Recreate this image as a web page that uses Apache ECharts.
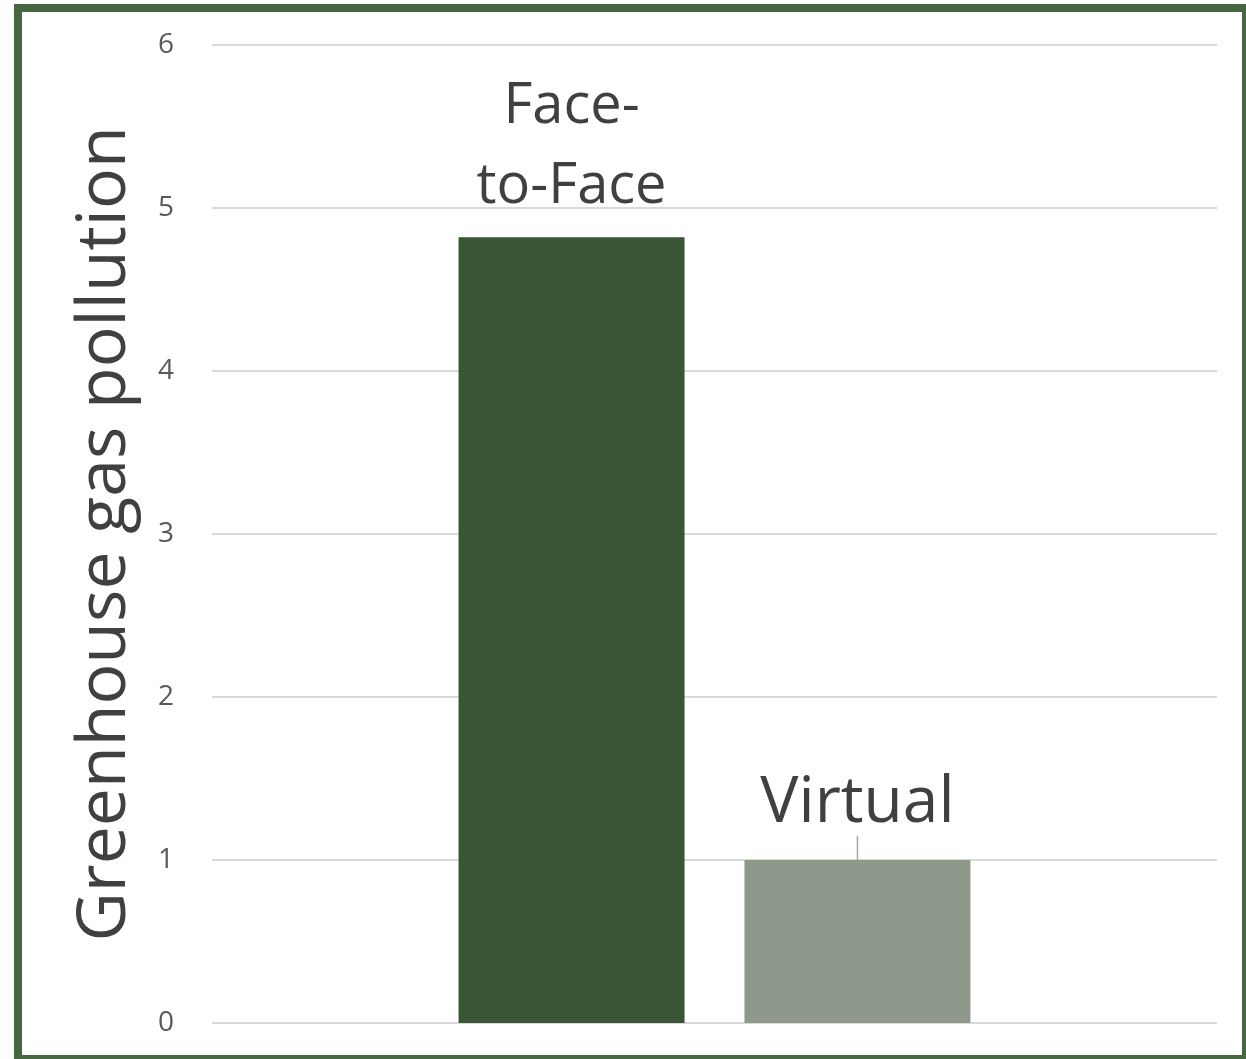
<!DOCTYPE html>
<html>
<head>
<meta charset="utf-8">
<script src="https://cdn.jsdelivr.net/npm/echarts@6/dist/echarts.min.js"></script>
<style>
  html, body { margin: 0; padding: 0; background: #fff; overflow: hidden; }
  #frame { position: absolute; left: 14px; top: 4px; width: 1220px; height: 1043px; border: 8px solid #46673f; }
  #chart { position: absolute; left: 0; top: 0; width: 1246px; height: 1059px; }
</style>
</head>
<body>
<div id="frame"></div>
<div id="chart"></div>
<script>
// data
const categories = ['Meeting'];
const faceToFace = [4.82];
const virtual = [1.0];
const yTicks = [0, 1, 2, 3, 4, 5, 6];

const font = '"Open Sans", Lato, sans-serif';

let myChart = echarts.init(document.getElementById('chart'));
myChart.setOption({
  animation: false,
  grid: { left: 212, right: 29, top: 45, bottom: 36 },
  xAxis: {
    type: 'category',
    data: categories,
    axisLine: { show: false },
    axisTick: { show: false },
    axisLabel: { show: false }
  },
  yAxis: {
    type: 'value',
    min: yTicks[0],
    max: yTicks[yTicks.length - 1],
    interval: 1,
    name: 'Greenhouse gas pollution',
    nameLocation: 'middle',
    nameGap: 72,
    nameTextStyle: { fontFamily: font, fontSize: 68, color: '#404040' },
    axisLine: { show: false },
    axisTick: { show: false },
    axisLabel: { fontFamily: font, fontSize: 28, color: '#595959', margin: 38 },
    splitLine: { lineStyle: { color: '#d9d9d9', width: 2 } }
  },
  series: [
    {
      name: 'Face-to-Face',
      type: 'bar',
      data: faceToFace,
      barWidth: 226,
      barGap: '26.5%',
      itemStyle: { color: '#385633' },
      label: {
        show: true,
        position: 'top',
        distance: 10,
        formatter: 'Face-\nto-Face',
        fontFamily: font,
        fontSize: 56,
        lineHeight: 80,
        color: '#404040'
      }
    },
    {
      name: 'Virtual',
      type: 'bar',
      data: virtual,
      barWidth: 226,
      itemStyle: { color: '#8e998b' },
      label: {
        show: true,
        position: 'top',
        distance: 0,
        formatter: 'Virtual',
        fontFamily: font,
        fontSize: 64,
        color: '#404040'
      },
      labelLayout: { dy: -24 },
      labelLine: { show: true, lineStyle: { color: '#a6a6a6', width: 1.5 } }
    }
  ]
});
</script>
</body>
</html>
